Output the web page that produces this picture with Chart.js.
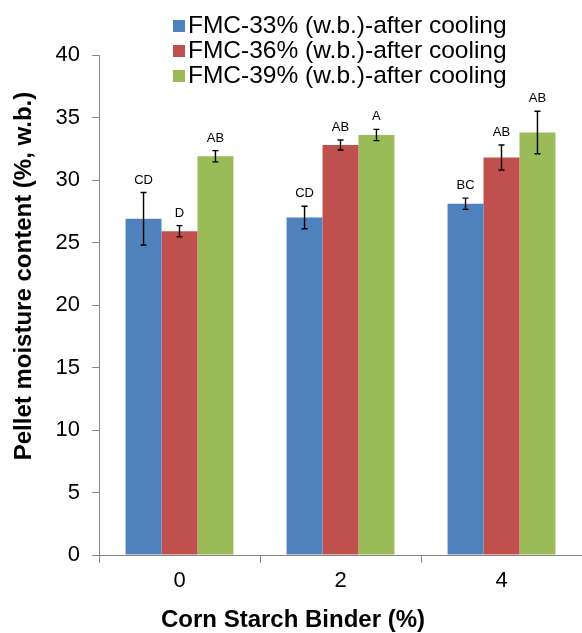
<!DOCTYPE html>
<html>
<head>
<meta charset="utf-8">
<script src="https://cdn.jsdelivr.net/npm/chart.js@4/dist/chart.umd.min.js"></script>
<style>
  body { margin: 0; background: #fff; }
  .chart { width: 582px; height: 633px; }
</style>
</head>
<body>
<div class="chart"><canvas id="barChart" width="582" height="633"></canvas></div>
<script>
const categories = ["0", "2", "4"];
const seriesNames = [
  "FMC-33% (w.b.)-after cooling",
  "FMC-36% (w.b.)-after cooling",
  "FMC-39% (w.b.)-after cooling",
];
const fmc33 = [26.9, 27.0, 28.1];
const fmc36 = [25.9, 32.8, 31.8];
const fmc39 = [31.9, 33.6, 33.8];
const err33 = [2.1, 0.9, 0.45];
const err36 = [0.45, 0.4, 1.0];
const err39 = [0.45, 0.45, 1.7];
const letters33 = ["CD", "CD", "BC"];
const letters36 = ["D", "AB", "AB"];
const letters39 = ["AB", "A", "AB"];
const yTicks = [0, 5, 10, 15, 20, 25, 30, 35, 40];

const colors = ["#4F81BD", "#C0504D", "#9BBB59"];
const errors = [err33, err36, err39];
const letters = [letters33, letters36, letters39];
const axisColor = "#868686";
const font = "'Liberation Sans', Arial, sans-serif";

// error bars + significance letters
const errorBars = {
  id: "errorBars",
  afterDatasetsDraw(chart) {
    const ctx = chart.ctx;
    const y = chart.scales.y;
    ctx.save();
    ctx.strokeStyle = "#000";
    ctx.lineWidth = 1.4;
    ctx.fillStyle = "#000";
    ctx.font = "13px " + font;
    ctx.textAlign = "center";
    ctx.textBaseline = "alphabetic";
    chart.data.datasets.forEach((ds, i) => {
      chart.getDatasetMeta(i).data.forEach((bar, j) => {
        const v = ds.data[j];
        const e = errors[i][j];
        const top = y.getPixelForValue(v + e);
        const bot = y.getPixelForValue(v - e);
        ctx.beginPath();
        ctx.moveTo(bar.x, top);
        ctx.lineTo(bar.x, bot);
        ctx.moveTo(bar.x - 3, top);
        ctx.lineTo(bar.x + 3, top);
        ctx.moveTo(bar.x - 3, bot);
        ctx.lineTo(bar.x + 3, bot);
        ctx.stroke();
        ctx.fillText(letters[i][j], bar.x, top - 9);
      });
    });
    ctx.restore();
  },
};

// stacked legend and axis titles
const labelsPlugin = {
  id: "labelsPlugin",
  afterDraw(chart) {
    const ctx = chart.ctx;
    ctx.save();
    ctx.textBaseline = "middle";
    ctx.textAlign = "left";
    ctx.font = "24.5px " + font;
    chart.data.datasets.forEach((ds, i) => {
      const cy = 26 + i * 25;
      ctx.fillStyle = ds.backgroundColor;
      ctx.fillRect(173, cy - 6, 12, 12);
      ctx.fillStyle = "#000";
      ctx.fillText(ds.label, 188, cy);
    });
    ctx.textAlign = "center";
    ctx.font = "bold 24px " + font;
    ctx.fillText("Corn Starch Binder (%)", 293, 620);
    ctx.translate(24, 276);
    ctx.rotate(-Math.PI / 2);
    ctx.fillText("Pellet moisture content (%, w.b.)", 0, 0);
    ctx.restore();
  },
};

const datasets = [fmc33, fmc36, fmc39].map((data, i) => ({
  label: seriesNames[i],
  data: data,
  backgroundColor: colors[i],
  borderWidth: 0,
  categoryPercentage: 0.67,
  barPercentage: 1.0,
}));

new Chart(document.getElementById("barChart").getContext("2d"), {
  type: "bar",
  data: { labels: categories, datasets: datasets },
  options: {
    responsive: false,
    animation: false,
    layout: { padding: { top: 55, right: 0, left: 0, bottom: 0 } },
    plugins: {
      legend: { display: false },
      tooltip: { enabled: false },
    },
    scales: {
      x: {
        grid: {
          display: true,
          drawOnChartArea: false,
          drawTicks: true,
          tickLength: 8,
          color: axisColor,
          offset: true,
        },
        border: { display: true, color: axisColor, width: 1 },
        ticks: {
          color: "#000",
          font: { family: font, size: 22 },
          padding: 5,
        },
        afterFit: (s) => { s.height = 78; },
      },
      y: {
        min: 0,
        max: 40,
        afterBuildTicks: (s) => { s.ticks = yTicks.map((v) => ({ value: v })); },
        grid: {
          display: true,
          drawOnChartArea: false,
          drawTicks: true,
          tickLength: 7,
          color: axisColor,
        },
        border: { display: true, color: axisColor, width: 1 },
        ticks: {
          color: "#000",
          font: { family: font, size: 22 },
          padding: 12,
        },
        afterFit: (s) => { s.width = 99; },
      },
    },
  },
  plugins: [errorBars, labelsPlugin],
});
</script>
</body>
</html>
